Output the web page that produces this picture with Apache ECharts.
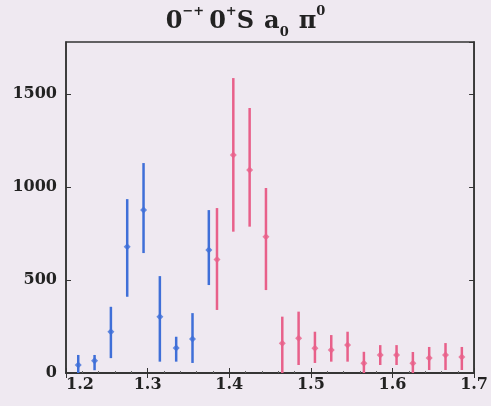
<!DOCTYPE html>
<html>
<head>
<meta charset="utf-8">
<script src="https://cdn.jsdelivr.net/npm/echarts@6/dist/echarts.min.js"></script>
<style>
html,body{margin:0;padding:0;background:#efe9f1;}
#c{width:491px;height:406px;}
</style>
</head>
<body>
<div id="c"></div>
<script>
// ---- data ----
var blueX   = [1.215, 1.235, 1.255, 1.275, 1.295, 1.315, 1.335, 1.355, 1.375];
var blueY   = [43, 66, 222, 679, 876, 303, 134, 183, 661];
var blueLo  = [0, 15, 80, 410, 645, 61, 61, 54, 473];
var blueHi  = [97, 97, 356, 935, 1129, 521, 195, 322, 876];

var redX    = [1.385, 1.405, 1.425, 1.445, 1.465, 1.485, 1.505, 1.525, 1.545, 1.565, 1.585, 1.605, 1.625, 1.645, 1.665, 1.685];
var redY    = [611, 1172, 1091, 733, 160, 187, 133, 124, 150, 52, 97, 97, 52, 80, 97, 86];
var redLo   = [339, 760, 787, 446, 0, 43, 54, 61, 61, 0, 43, 43, 0, 16, 16, 16];
var redHi   = [887, 1586, 1425, 995, 303, 330, 222, 204, 222, 114, 150, 150, 113, 140, 161, 140];

var xTicks = [1.2, 1.3, 1.4, 1.5, 1.6, 1.7];
var yTicks = [0, 500, 1000, 1500];

var BLUE = '#3f6fd8', RED = '#e8608a';
var FONT = 'DejaVu Serif';

function pts(xs, ys){ return xs.map(function(x,i){ return [x, ys[i]]; }); }
function errs(xs, lo, hi){ return xs.map(function(x,i){ return [x, lo[i], hi[i]]; }); }

function errSeries(data, color){
  return {
    type: 'custom',
    data: data,
    encode: {x: 0, y: [1, 2]},
    renderItem: function(params, api){
      var p1 = api.coord([api.value(0), api.value(1)]);
      var p2 = api.coord([api.value(0), api.value(2)]);
      return {type: 'line', shape: {x1: p1[0], y1: p1[1], x2: p2[0], y2: p2[1]},
              style: {stroke: color, lineWidth: 2.5}};
    },
    z: 2
  };
}

var chart = echarts.init(document.getElementById('c'));
chart.setOption({
  backgroundColor: '#efe9f1',
  animation: false,
  title: {
    left: 'center', top: 0,
    text: '{b|0}{sup|−+} {b|0}{sup|+}{b|S}  {b|a}{sub|0}  {b|π}{sup|0}',
    textStyle: {
      rich: {
        b: {fontFamily: FONT, fontWeight: 'bold', fontSize: 24, color: '#222', lineHeight: 34, verticalAlign: 'middle'},
        sup: {fontFamily: FONT, fontWeight: 'bold', fontSize: 13, color: '#222', verticalAlign: 'top', padding: [0,0,4,0]},
        sub: {fontFamily: FONT, fontWeight: 'bold', fontSize: 13, color: '#222', verticalAlign: 'bottom', padding: [8,0,0,0]}
      }
    }
  },
  grid: {left: 66, right: 14, top: 42, bottom: 33, show: true, borderColor: '#333', borderWidth: 1.5, backgroundColor: 'transparent'},
  xAxis: [{
    type: 'value', min: 1.2, max: 1.7, interval: 0.1,
    axisLine: {show: true, onZero: false, lineStyle: {color: '#333', width: 1.5}},
    axisTick: {inside: true, length: 5, lineStyle: {color: '#333'}},
    minorTick: {show: true, splitNumber: 5, length: 2, lineStyle: {color: '#666'}},
    splitLine: {show: false},
    axisLabel: {
      fontFamily: FONT, fontWeight: 'bold', fontSize: 16, color: '#222', margin: 4,
      formatter: function(v){
        var s = (Math.round(v*10)/10).toFixed(1);
        return xTicks.indexOf(Math.round(v*10)/10) === 0 ? '{f|' + s + '}' : s;
      },
      rich: {f: {fontFamily: FONT, fontWeight: 'bold', fontSize: 16, color: '#222', padding: [0,0,0,28]}}
    }
  }, {
    type: 'value', position: 'top', min: 1.2, max: 1.7, interval: 0.1,
    axisLine: {show: true, lineStyle: {color: '#333', width: 1.5}},
    axisTick: {inside: true, length: 5, lineStyle: {color: '#333'}},
    axisLabel: {show: false}, splitLine: {show: false}
  }],
  yAxis: [{
    type: 'value', min: 0, max: 1780, interval: 500,
    axisLine: {show: true, lineStyle: {color: '#333', width: 1.5}},
    axisTick: {inside: true, length: 5, lineStyle: {color: '#333'}},
    splitLine: {show: false},
    axisLabel: {
      fontFamily: FONT, fontWeight: 'bold', fontSize: 16, color: '#222', margin: 9, showMaxLabel: false,
      formatter: function(v){ return yTicks.indexOf(v) >= 0 ? String(v) : ''; }
    }
  }, {
    type: 'value', position: 'right', min: 0, max: 1780, interval: 500,
    axisLine: {show: true, lineStyle: {color: '#333', width: 1.5}},
    axisTick: {inside: true, length: 5, lineStyle: {color: '#333'}},
    axisLabel: {show: false}, splitLine: {show: false}
  }],
  series: [
    errSeries(errs(blueX, blueLo, blueHi), BLUE),
    errSeries(errs(redX, redLo, redHi), RED),
    {type: 'scatter', data: pts(blueX, blueY), symbol: 'diamond', symbolSize: 7, itemStyle: {color: BLUE}, z: 3},
    {type: 'scatter', data: pts(redX, redY), symbol: 'diamond', symbolSize: 7, itemStyle: {color: RED}, z: 3}
  ]
});
</script>
</body>
</html>
